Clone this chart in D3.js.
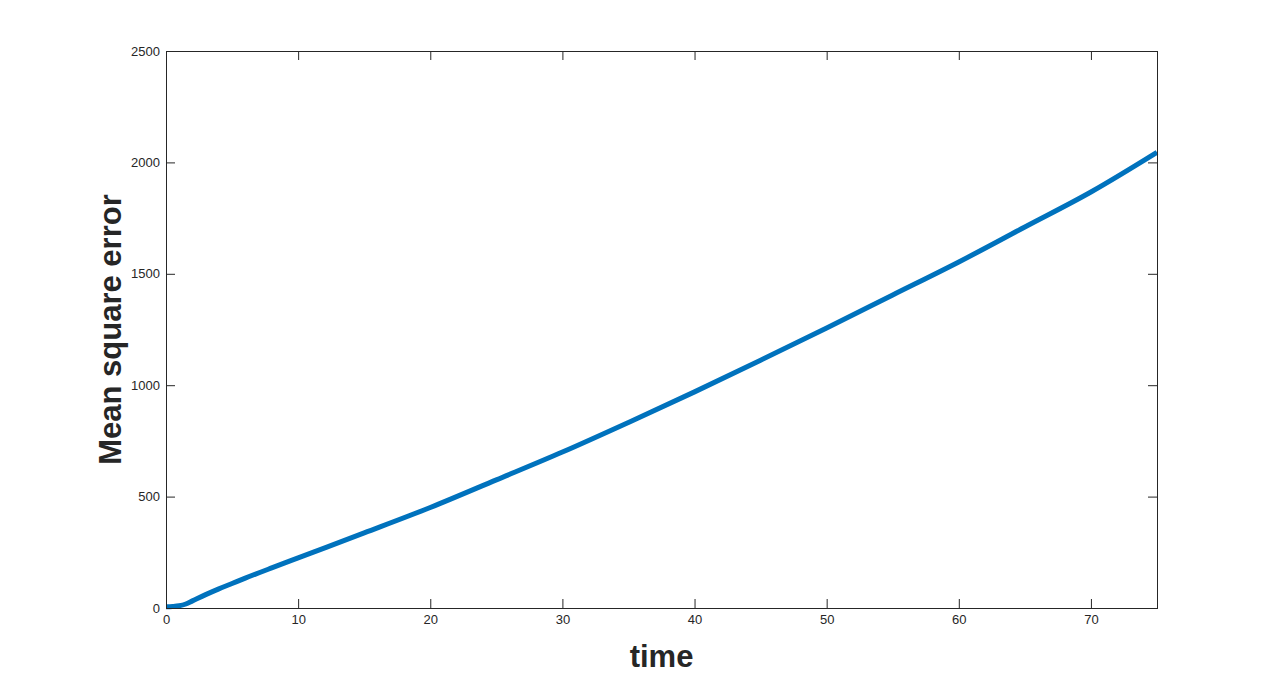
<!DOCTYPE html>
<html>
<head>
<meta charset="utf-8">
<script src="https://cdn.jsdelivr.net/npm/d3@7"></script>
<style>
  body { margin: 0; background: #fff; }
  svg { display: block; }
  svg text { font-family: "Liberation Sans", Arial, sans-serif; }
</style>
</head>
<body>
<svg id="chart" width="1280" height="683"></svg>
<script>
// data
const times = [0, 0.5, 1, 1.5, 2, 3, 4, 5, 6, 8, 10, 15, 20, 25, 30, 35, 40, 45, 50, 55, 60, 65, 70, 75]
const mse = [6, 7, 10, 18, 32, 60, 86, 110, 134, 180, 225, 337, 451, 575, 700, 833, 970, 1112, 1257, 1405, 1553, 1710, 1867, 2045]
const xTicks = [0, 10, 20, 30, 40, 50, 60, 70]
const yTicks = [0, 500, 1000, 1500, 2000, 2500]

const svg = d3.select("#chart")
const mLeft = 166, mRight = 1157, mTop = 51, mBottom = 608
const tickLen = 9

const x = d3.scaleLinear().domain([0, 75]).range([mLeft, mRight])
const y = d3.scaleLinear().domain([0, 2500]).range([mBottom, mTop])

//line
const line = d3.line()
  .x((d, i) => x(times[i]))
  .y((d) => y(d))
  .curve(d3.curveMonotoneX)

svg.append("path")
  .datum(mse)
  .attr("d", line)
  .attr("fill", "none")
  .attr("stroke", "#0072BD")
  .attr("stroke-width", 5)

//axes (ticks inward, box on all sides)
const axStyle = (g) => {
  g.attr("font-family", null).attr("font-size", null)
  g.select(".domain").remove()
  g.selectAll(".tick line").attr("stroke", "#262626")
  g.selectAll(".tick text").attr("fill", "#262626").style("font-size", "13px")
}
const fmt = d3.format("d")

svg.append("g")
  .attr("transform", `translate(0,${mBottom})`)
  .call(d3.axisBottom(x).tickValues(xTicks).tickFormat(fmt).tickSizeInner(-tickLen).tickPadding(7))
  .call(axStyle)

svg.append("g")
  .attr("transform", `translate(0,${mTop})`)
  .call(d3.axisTop(x).tickValues(xTicks).tickSizeInner(-tickLen).tickFormat(""))
  .call(axStyle)

svg.append("g")
  .attr("transform", `translate(${mLeft},0)`)
  .call(d3.axisLeft(y).tickValues(yTicks).tickFormat(fmt).tickSizeInner(-tickLen).tickPadding(6))
  .call(axStyle)

svg.append("g")
  .attr("transform", `translate(${mRight},0)`)
  .call(d3.axisRight(y).tickValues(yTicks).tickSizeInner(-tickLen).tickFormat(""))
  .call(axStyle)

svg.append("rect")
  .attr("x", mLeft).attr("y", mTop)
  .attr("width", mRight - mLeft).attr("height", mBottom - mTop)
  .attr("fill", "none")
  .attr("stroke", "#262626")
  .attr("stroke-width", 1)
  .attr("shape-rendering", "crispEdges")

//labels
svg.append("text")
  .attr("x", (mLeft + mRight) / 2)
  .attr("y", 667)
  .attr("text-anchor", "middle")
  .attr("fill", "#262626")
  .style("font-size", "31px")
  .style("font-weight", "bold")
  .text("time")

svg.append("text")
  .attr("transform", `translate(121,${(mTop + mBottom) / 2}) rotate(-90)`)
  .attr("text-anchor", "middle")
  .attr("fill", "#262626")
  .style("font-size", "31px")
  .style("font-weight", "bold")
  .text("Mean square error")
</script>
</body>
</html>
